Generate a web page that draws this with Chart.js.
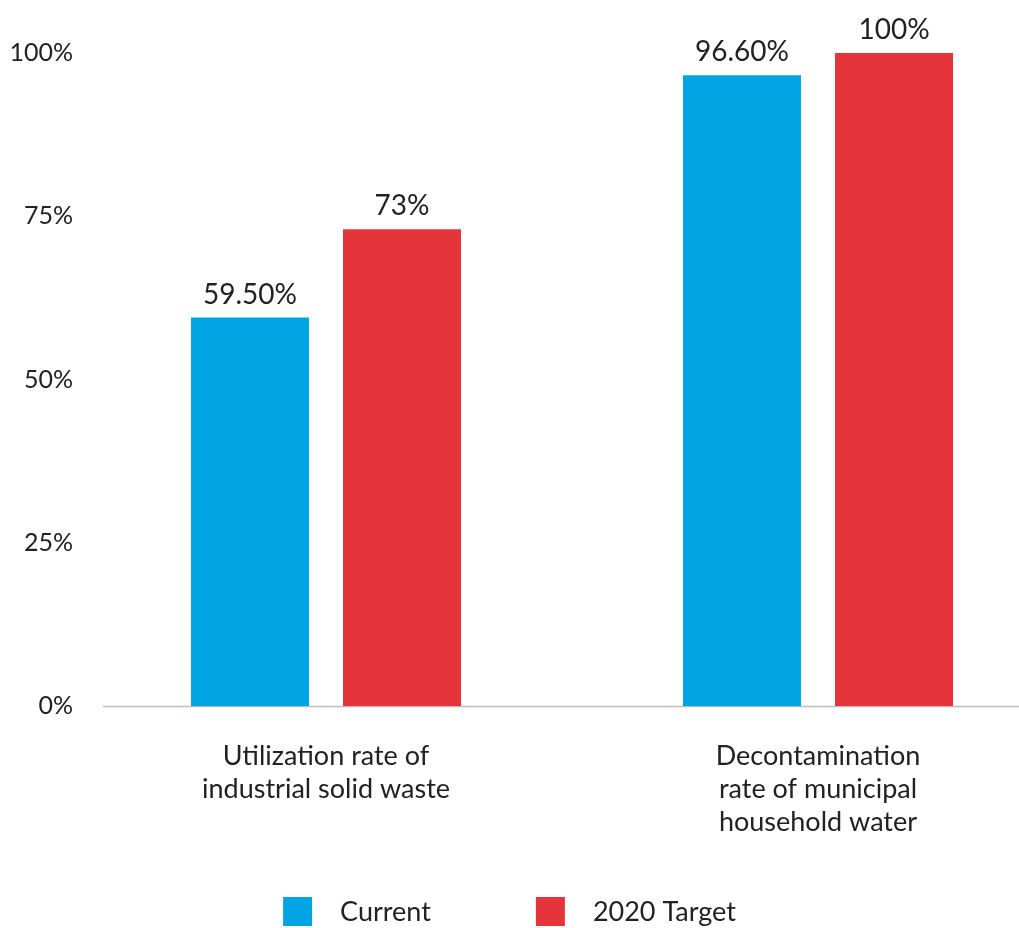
<!DOCTYPE html>
<html>
<head>
<meta charset="utf-8">
<title>Solid waste and household water rates</title>
<script src="https://cdn.jsdelivr.net/npm/chart.js@4.4.1/dist/chart.umd.min.js"></script>
<style>
  html, body { margin: 0; padding: 0; background: #fff; overflow: hidden; }
  #wrap { width: 1064px; height: 928px; }
</style>
</head>
<body>
<div id="wrap"><canvas id="chart" width="1064" height="928"></canvas></div>
<script>
// Categories (multi-line axis labels) and the two series, in percent
const categories = [
  ['Utilization rate of', 'industrial solid waste'],
  ['Decontamination', 'rate of municipal', 'household water']
];
const seriesNames = ['Current', '2020 Target'];
const currentRates = [59.5, 96.6];
const targetRates = [73, 100];
const valueDecimals = [2, 0];      // how each series prints its value label
const yTickStep = 25;

const BLUE = '#00a4e3';
const RED = '#e5353a';
const TEXT = '#222222';
const FONT = 'Lato';
const PAGE_WIDTH = 1019;           // visible page width, used to centre the legend

Chart.defaults.font.family = FONT;
Chart.defaults.color = TEXT;

// Thin grey baseline under the bars
const baselinePlugin = {
  id: 'baseline',
  beforeDatasetsDraw(chart) {
    const { ctx, chartArea, scales } = chart;
    const y = Math.round(scales.y.getPixelForValue(0)) + 0.5;
    ctx.save();
    ctx.strokeStyle = '#bdbdbd';
    ctx.lineWidth = 1.5;
    ctx.beginPath();
    ctx.moveTo(chartArea.left + 23, y);
    ctx.lineTo(chartArea.right, y);
    ctx.stroke();
    ctx.restore();
  }
};

// Value labels above each bar
const valueLabelPlugin = {
  id: 'valueLabels',
  afterDatasetsDraw(chart) {
    const { ctx } = chart;
    ctx.save();
    ctx.font = `28px ${FONT}`;
    ctx.fillStyle = TEXT;
    ctx.textAlign = 'center';
    ctx.textBaseline = 'alphabetic';
    chart.data.datasets.forEach((ds, i) => {
      const meta = chart.getDatasetMeta(i);
      meta.data.forEach((bar, j) => {
        const text = ds.data[j].toFixed(valueDecimals[i]) + '%';
        ctx.fillText(text, bar.x, bar.y - 14);
      });
    });
    ctx.restore();
  }
};

// Legend row: square swatch, then the series name
const legendPlugin = {
  id: 'swatchLegend',
  afterDraw(chart) {
    const { ctx } = chart;
    const box = 29, boxGap = 28, itemGap = 105;
    ctx.save();
    ctx.font = `27px ${FONT}`;
    const items = chart.data.datasets.map(ds => ({
      label: ds.label, color: ds.backgroundColor, w: ctx.measureText(ds.label).width
    }));
    const total = items.reduce((s, it) => s + box + boxGap + it.w, 0) + itemGap * (items.length - 1);
    let x = PAGE_WIDTH / 2 - total / 2;
    const cy = 911.5;
    items.forEach(it => {
      ctx.fillStyle = it.color;
      ctx.fillRect(x, cy - box / 2, box, box);
      x += box + boxGap;
      ctx.fillStyle = TEXT;
      ctx.textAlign = 'left';
      ctx.textBaseline = 'middle';
      ctx.fillText(it.label, x, cy + 1);
      x += it.w + itemGap;
    });
    ctx.restore();
  }
};

new Chart(document.getElementById('chart'), {
  type: 'bar',
  data: {
    labels: categories,
    datasets: [
      { label: seriesNames[0], data: currentRates, backgroundColor: BLUE },
      { label: seriesNames[1], data: targetRates, backgroundColor: RED }
    ]
  },
  options: {
    responsive: false,
    animation: false,
    layout: { padding: { top: 53, right: 0, bottom: 55, left: 0 } },
    datasets: {
      bar: { categoryPercentage: 0.618, barPercentage: 0.776, borderWidth: 0 }
    },
    plugins: {
      legend: { display: false },
      tooltip: { enabled: false }
    },
    scales: {
      x: {
        grid: { display: false, drawTicks: false },
        border: { display: false },
        ticks: {
          font: { size: 27, lineHeight: 1.22 },
          color: TEXT,
          padding: 34,
          maxRotation: 0,
          autoSkip: false
        }
      },
      y: {
        min: 0,
        max: 100,
        grid: { display: false, drawTicks: false },
        border: { display: false },
        afterFit(scale) { scale.width = 80; },
        ticks: {
          stepSize: yTickStep,
          font: { size: 25 },
          color: TEXT,
          padding: 7,
          callback: v => v + '%'
        }
      }
    }
  },
  plugins: [baselinePlugin, valueLabelPlugin, legendPlugin]
});
</script>
</body>
</html>
